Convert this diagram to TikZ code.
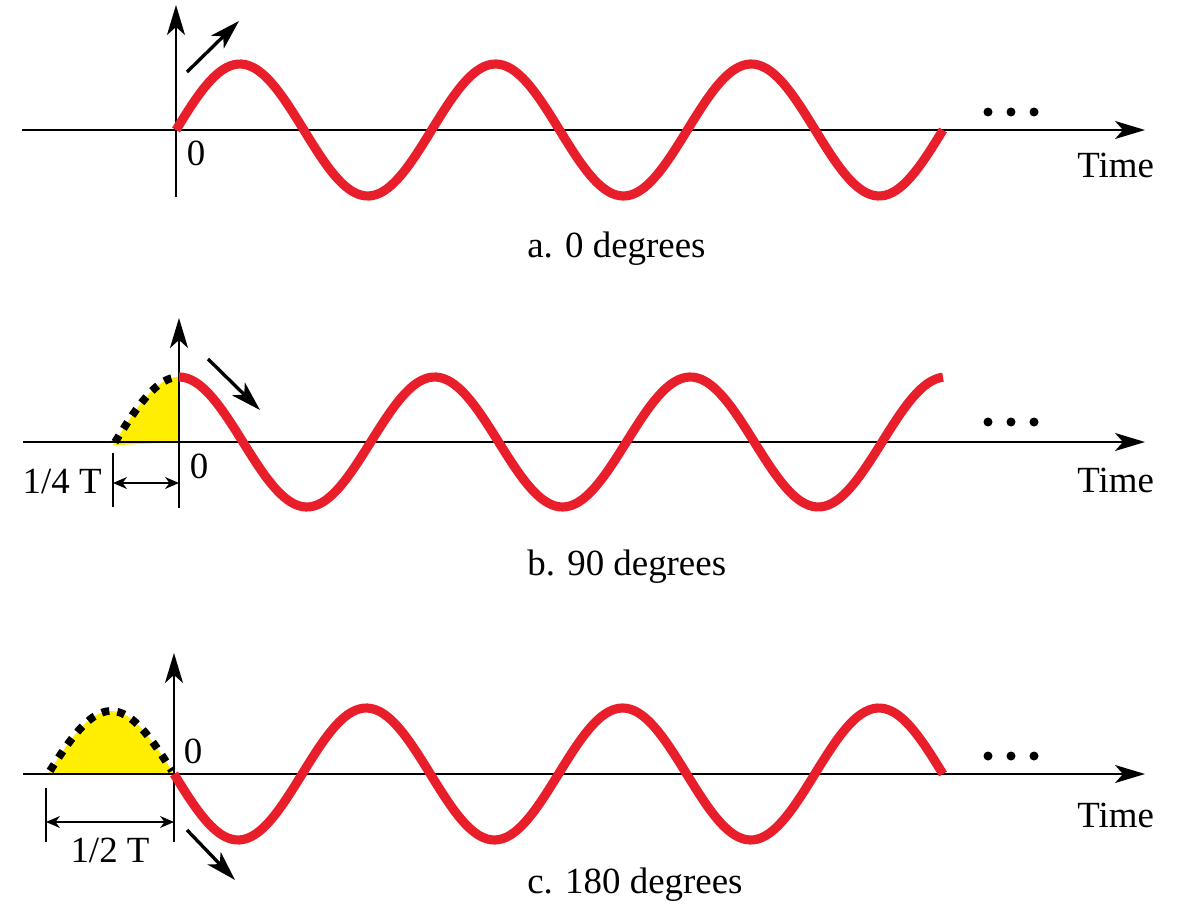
\documentclass[tikz,border=0pt]{standalone}
\usepackage{fontspec}
\setmainfont{Liberation Serif}
\usetikzlibrary{arrows.meta}

\begin{document}
\begin{tikzpicture}[x=0.02cm,y=-0.02cm,
  >={Stealth[length=6mm,width=3.6mm,inset=1.6mm]},
  axis/.style={line width=1.2pt,->},
  wave/.style={line width=5.2pt,color=waveRed},
  dotwave/.style={line width=4.4pt,dash pattern=on 4.4pt off 4.6pt,color=black},
  pointer/.style={line width=1.9pt,->},
  dimline/.style={line width=1pt},
  dimarrow/.style={line width=1pt,{Stealth[length=2.8mm,width=2.4mm,inset=0.9mm]}-{Stealth[length=2.8mm,width=2.4mm,inset=0.9mm]}},
  lbl/.style={font=\fontsize{21}{25}\selectfont,inner sep=0pt}]
\definecolor{waveRed}{RGB}{232,30,42}
\definecolor{areaYellow}{RGB}{255,238,0}
\useasboundingbox (0,0) rectangle (1178,916);
\fill[areaYellow] (179,442) -- plot[domain=113:179,samples=30,smooth] (\x,{442-65*cos(((\x-179)/255.67)*360)}) -- cycle;
\fill[areaYellow] (48,774) -- plot[domain=48:174,samples=40,smooth] (\x,{774-63*sin(((\x-48)/252)*360)}) -- cycle;
\draw[axis] (22,130) -- (1145,130);
\draw[axis] (176,197) -- (176,5);
\draw[axis] (23,442) -- (1145,442);
\draw[axis] (179,508) -- (179,318);
\draw[axis] (23,774) -- (1145,774);
\draw[axis] (174,842) -- (174,653);
\draw[dotwave] plot[domain=115:177,samples=30,smooth] (\x,{442-65*cos(((\x-179)/255.67)*360)});
\draw[dotwave] plot[domain=50:172,samples=40,smooth] (\x,{774-63*sin(((\x-48)/252)*360)});
\draw[wave] plot[domain=176:943,samples=200,smooth] (\x,{130-66*sin(((\x-176)/255.67)*360)});
\draw[wave] plot[domain=179:943,samples=200,smooth] (\x,{442-65*cos(((\x-179)/255.67)*360)});
\draw[wave] plot[domain=174:943,samples=200,smooth] (\x,{774+66*sin(((\x-174)/256.33)*360)});
\foreach \y in {112,422,756}
  \foreach \x in {988,1011,1034}
    \fill (\x,\y) circle[radius=0.9mm];
\coordinate (a ptr start) at (187,72);
\coordinate (a ptr end) at (239,21);
\coordinate (b ptr start) at (208,359);
\coordinate (b ptr end) at (260,410);
\coordinate (c ptr start) at (187,830);
\coordinate (c ptr end) at (235,880);
\draw[pointer] (a ptr start) -- (a ptr end);
\draw[pointer] (b ptr start) -- (b ptr end);
\draw[pointer] (c ptr start) -- (c ptr end);
\coordinate (b tick) at (113,483);
\coordinate (b axis) at (179,483);
\draw[dimline] (113,453) -- (113,507);
\draw[dimarrow] (b tick) -- (b axis);
\coordinate (c tick) at (46,822);
\coordinate (c axis) at (174,822);
\draw[dimline] (46,788) -- (46,842);
\draw[dimarrow] (c tick) -- (c axis);
\node[lbl,anchor=base] (zero a) at (196,165) {0};
\node[lbl,anchor=base] (zero b) at (199,478) {0};
\node[lbl,anchor=base] (zero c) at (193,763) {0};
\node[lbl,anchor=base west] (time a) at (1077,177) {Time};
\node[lbl,anchor=base west] (time b) at (1077,492) {Time};
\node[lbl,anchor=base west] (time c) at (1077,827) {Time};
\node[lbl,anchor=base east] (quarter T) at (102,493) {1/4 T};
\node[lbl,anchor=base] (half T) at (110,862) {1/2 T};
\node[lbl,anchor=base west] (caption a) at (527,257) {a. 0 degrees};
\node[lbl,anchor=base west] (caption b) at (527,575) {b. 90 degrees};
\node[lbl,anchor=base west] (caption c) at (527,893) {c. 180 degrees};
\end{tikzpicture}
\end{document}
